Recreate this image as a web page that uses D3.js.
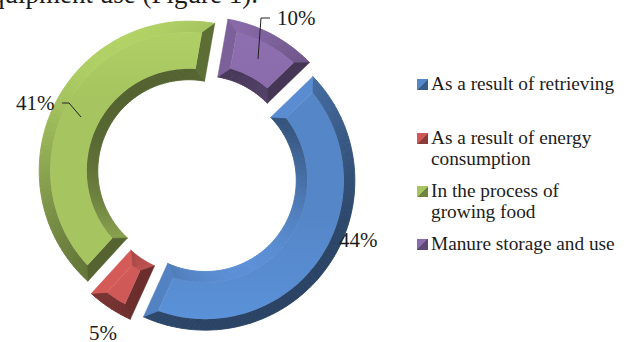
<!DOCTYPE html>
<html>
<head>
<meta charset="utf-8">
<script src="https://cdn.jsdelivr.net/npm/d3@7/dist/d3.min.js"></script>
<style>
html,body{margin:0;padding:0;background:#fff;overflow:hidden}
svg{display:block}
text{font-family:"Liberation Serif",serif;fill:#1c1c1c}
</style>
</head>
<body>
<script>
const categories = ["As a result of retrieving", "As a result of energy consumption", "In the process of growing food", "Manure storage and use"];
const legendLines = [["As a result of retrieving"], ["As a result of energy", "consumption"], ["In the process of", "growing food"], ["Manure storage and use"]];
const shares = [44, 5, 41, 10];
const faceColors = ["#5586c8", "#cd5856", "#a6c45f", "#8a6bab"];
const faceHighlights = ["#5a91d8", "#d05b58", "#b0cf65", "#8d6eae"];
// Gradient direction of each face, as y1/y2 fractions: highlight end first
const highlightEnds = [[1, 0.55], [0, 1], [0, 0.3], [0, 1]];

const width = 627, height = 342;
const cx = 197.4, cy = 175, outerR = 149.6, innerR = 91, bevel = 11, explode = 9.6;
const firstAngle = 46 * Math.PI / 180;

const svg = d3.select("body").append("svg").attr("width", width).attr("height", height);
const defs = svg.append("defs");

// Sentence from the surrounding page, cut by the top edge
svg.append("text").attr("x", 258).attr("y", 2.5).attr("text-anchor", "end").attr("font-size", 27).text("equipment use (Figure 1).");

const pie = d3.pie().sort(null).startAngle(firstAngle).endAngle(firstAngle + 2 * Math.PI);
const arcs = pie(shares);

// Polar angle (clockwise from 12 o'clock) to x/y
const pt = (r, a) => [r * Math.sin(a), -r * Math.cos(a)];

// Light falls from the upper left; n is the bevel's facing direction
function shade(base, n) {
  const c = Math.cos(n - 335 * Math.PI / 180);
  const f = 0.5 + 0.57 * Math.pow((1 + c) / 2, 1.5);
  const col = d3.rgb(base);
  return d3.rgb(Math.min(255, col.r * f), Math.min(255, col.g * f), Math.min(255, col.b * f)).formatHex();
}
const line = d3.line();

arcs.forEach((d, i) => {
  const mid = (d.startAngle + d.endAngle) / 2;
  const off = pt(explode, mid);
  const g = svg.append("g").attr("transform", `translate(${cx + off[0]},${cy + off[1]})`);
  const base = faceColors[i];
  const a0 = d.startAngle, a1 = d.endAngle;
  const Ro = outerR - bevel, Ri = innerR + bevel;
  const o0 = a0 + Math.asin(bevel / Ro), o1 = a1 - Math.asin(bevel / Ro);
  const i0 = a0 + Math.asin(bevel / Ri), i1 = a1 - Math.asin(bevel / Ri);
  const steps = Math.max(6, Math.round((a1 - a0) * 30));
  const draw = (pts, fill, sw, strokeCol) => g.append("path").attr("d", line(pts) + "Z").attr("fill", fill).attr("stroke", strokeCol || fill).attr("stroke-width", sw).attr("stroke-linejoin", "round");

  // Bevels along the outer and inner edges, shaded strip by strip
  for (let k = 0; k < steps; k++) {
    const t0 = k / steps, t1 = (k + 1) / steps;
    const s0 = a0 + (a1 - a0) * t0, s1 = a0 + (a1 - a0) * t1;
    draw([pt(outerR, s0), pt(outerR, s1), pt(Ro, o0 + (o1 - o0) * t1), pt(Ro, o0 + (o1 - o0) * t0)],
         shade(base, (s0 + s1) / 2), 0.9);
    draw([pt(innerR, s0), pt(innerR, s1), pt(Ri, i0 + (i1 - i0) * t1), pt(Ri, i0 + (i1 - i0) * t0)],
         shade(base, (s0 + s1) / 2 + Math.PI), 0.9);
  }
  // Bevels on the two cut ends
  draw([pt(outerR, a0), pt(Ro, o0), pt(Ri, i0), pt(innerR, a0)], shade(base, a0 - Math.PI / 2), 0.5);
  draw([pt(outerR, a1), pt(Ro, o1), pt(Ri, i1), pt(innerR, a1)], shade(base, a1 + Math.PI / 2), 0.5);

  // Top face with a faint sheen
  const sheen = defs.append("linearGradient").attr("id", "face" + i)
    .attr("x1", 0).attr("x2", 0).attr("y1", highlightEnds[i][0]).attr("y2", highlightEnds[i][1]);
  sheen.append("stop").attr("offset", "0%").attr("stop-color", faceHighlights[i]);
  sheen.append("stop").attr("offset", "100%").attr("stop-color", base);
  const facePts = [];
  d3.range(steps + 1).forEach(k => facePts.push(pt(Ro, o0 + (o1 - o0) * k / steps)));
  d3.range(steps, -1, -1).forEach(k => facePts.push(pt(Ri, i0 + (i1 - i0) * k / steps)));
  draw(facePts, `url(#face${i})`, 0);
});

// Value labels and their leader lines
const valueLabels = [[339, 247], [89, 340], [16, 110], [277, 25]];
shares.forEach((v, i) => {
  svg.append("text").attr("x", valueLabels[i][0]).attr("y", valueLabels[i][1]).attr("font-size", 21).text(v + "%");
});
const leaders = [
  [[81, 117], [69, 103], [62, 103]],
  [[258, 59], [261, 18], [270, 18]]
];
leaders.forEach(p => svg.append("path").attr("d", line(p)).attr("fill", "none").attr("stroke", "#222").attr("stroke-width", 1));

// Legend
const legendBase = [90, 144, 197, 250];
categories.forEach((c, i) => {
  const id = "swatch" + i;
  const grad = defs.append("linearGradient").attr("id", id).attr("x1", 0).attr("y1", 0).attr("x2", 1).attr("y2", 1);
  const light = d3.rgb(faceColors[i]), dark = d3.rgb(faceColors[i]).darker(1.1);
  grad.append("stop").attr("offset", "50%").attr("stop-color", light.formatHex());
  grad.append("stop").attr("offset", "50%").attr("stop-color", dark.formatHex());
  svg.append("rect").attr("x", 417).attr("y", legendBase[i] - 11).attr("width", 11).attr("height", 11).attr("fill", `url(#${id})`);
  legendLines[i].forEach((t, j) => {
    svg.append("text").attr("x", 431).attr("y", legendBase[i] + j * 21).attr("font-size", 19.3).text(t);
  });
});
</script>
</body>
</html>
